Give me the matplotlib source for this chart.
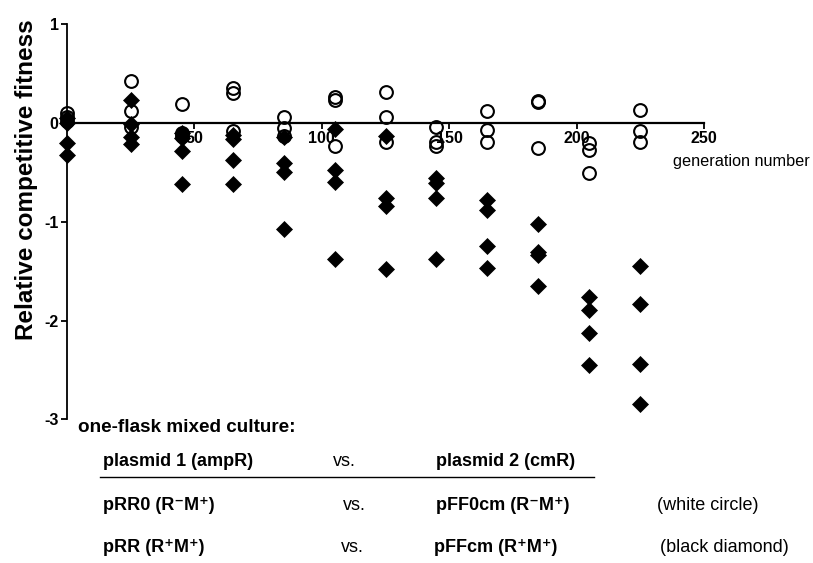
import matplotlib
matplotlib.use("Agg")
import matplotlib.pyplot as plt
from matplotlib.lines import Line2D

plt.rcParams["font.family"] = ["Liberation Sans", "DejaVu Sans"]

# generation number of each sampling point
GENERATIONS = [0, 25, 45, 65, 85, 105, 125, 145, 165, 185, 205, 225]

# pRR0 vs pFF0cm (R-M+ vs R-M+): white circles, three replicates per point
CIRCLES = [
    [0.10, 0.06, 0.02],
    [0.43, 0.12, -0.04],
    [0.19, -0.10, -0.13],
    [0.35, 0.30, -0.08],
    [0.06, -0.05, -0.13],
    [0.26, 0.23, -0.23],
    [0.31, 0.06, -0.19],
    [-0.04, -0.19, -0.23],
    [0.12, -0.07, -0.19],
    [0.22, 0.21, -0.25],
    [-0.20, -0.27, -0.51],
    [0.13, -0.08, -0.19],
]

# pRR vs pFFcm (R+M+ vs R+M+): black diamonds, four replicates per point
DIAMONDS = [
    [0.05, 0.00, -0.20, -0.32],
    [0.23, -0.01, -0.14, -0.21],
    [-0.10, -0.15, -0.28, -0.62],
    [-0.12, -0.16, -0.37, -0.62],
    [-0.14, -0.40, -0.50, -1.07],
    [-0.06, -0.48, -0.60, -1.38],
    [-0.13, -0.76, -0.84, -1.48],
    [-0.56, -0.61, -0.76, -1.38],
    [-0.78, -0.88, -1.24, -1.47],
    [-1.02, -1.31, -1.34, -1.65],
    [-1.76, -1.89, -2.13, -2.45],
    [-1.45, -1.83, -2.44, -2.85],
]

X_TICKS = [50, 100, 150, 200, 250]
Y_TICKS = [-3, -2, -1, 0, 1]

W, H = 813, 563


def px(x, y):
    return x / W, 1 - y / H


fig = plt.figure(figsize=(W / 100, H / 100), dpi=100)
ax = fig.add_axes([67 / W, (H - 419.3) / H, 637 / W, 395 / H])

cx = [g for g, vals in zip(GENERATIONS, CIRCLES) for _ in vals]
cy = [v for vals in CIRCLES for v in vals]
dx = [g for g, vals in zip(GENERATIONS, DIAMONDS) for _ in vals]
dy = [v for vals in DIAMONDS for v in vals]

ax.plot(cx, cy, "o", ms=9.2, mfc="none", mec="black", mew=1.5, ls="none", zorder=3, clip_on=False)
ax.plot(dx, dy, "D", ms=7.8, mfc="black", mec="black", mew=0.5, ls="none", zorder=4, clip_on=False)

ax.set_xlim(0, 250)
ax.set_ylim(-3, 1)
ax.spines["top"].set_visible(False)
ax.spines["right"].set_visible(False)
ax.spines["bottom"].set_position(("data", 0))
ax.spines["bottom"].set_linewidth(1.6)
ax.spines["left"].set_linewidth(1.3)

ax.set_xticks(X_TICKS)
ax.set_xticklabels([str(t) for t in X_TICKS], fontweight="bold", fontsize=11.5)
ax.set_yticks(Y_TICKS)
ax.set_yticklabels([str(t) for t in Y_TICKS], fontweight="bold", fontsize=11.5)
ax.tick_params(axis="x", direction="out", length=4, width=1.3, pad=2)
ax.tick_params(axis="y", direction="out", length=4, width=1.3, pad=2)

fig.text(*px(27, 180), "Relative competitive fitness", rotation=90, ha="center", va="center",
         fontsize=17.5, fontweight="bold")
fig.text(*px(810, 161), "generation number", ha="right", va="center", fontsize=11.7)

# legend table under the plot
bold = dict(fontsize=13, fontweight="bold", va="center")
plain = dict(fontsize=13, va="center")
fig.text(*px(78, 428), "one-flask mixed culture:", fontsize=13.6, fontweight="bold", va="center")
fig.text(*px(103, 461), "plasmid 1 (ampR)", **bold)
fig.text(*px(344, 461), "vs.", ha="center", **plain)
fig.text(*px(436, 461), "plasmid 2 (cmR)", **bold)
fig.add_artist(Line2D([100 / W, 594 / W], [1 - 477 / H, 1 - 477 / H], color="black", lw=1.0))
fig.text(*px(103, 505), "pRR0 (R\u207bM\u207a)", **bold)
fig.text(*px(354, 505), "vs.", ha="center", **plain)
fig.text(*px(436, 505), "pFF0cm (R\u207bM\u207a)", **bold)
fig.text(*px(657, 505), "(white circle)", **plain)
fig.text(*px(103, 548), "pRR (R\u207aM\u207a)", **bold)
fig.text(*px(352, 548), "vs.", ha="center", **plain)
fig.text(*px(434, 548), "pFFcm (R\u207aM\u207a)", **bold)
fig.text(*px(660, 548), "(black diamond)", **plain)

fig.savefig("out.png", dpi=100)
